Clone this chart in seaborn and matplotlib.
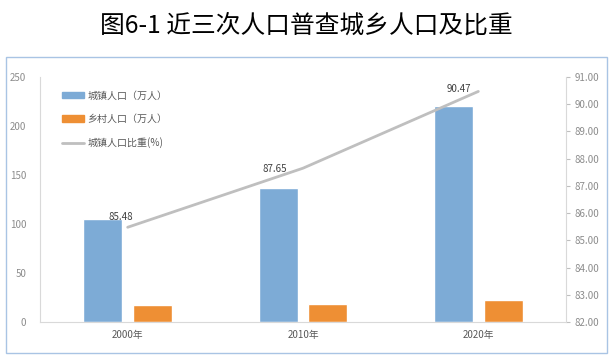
import numpy as np
import pandas as pd
import matplotlib
matplotlib.use("Agg")
import matplotlib.pyplot as plt
from matplotlib.patches import Rectangle, Patch
from matplotlib.lines import Line2D
import seaborn as sns

# data
years = ["2000年", "2010年", "2020年"]
urban = [105.1, 136.7, 220.4]      # 城镇人口（万人）
rural = [17.3, 18.6, 22.4]         # 乡村人口（万人）
urban_share = [85.48, 87.65, 90.47]  # 城镇人口比重(%)
series_names = ["城镇人口（万人）", "乡村人口（万人）", "城镇人口比重(%)"]

blue = "#7DABD6"
orange = "#EE8F34"
grey = "#BFBFBF"

sns.set_style("white")
plt.rcParams["font.family"] = ["Noto Sans CJK SC", "DejaVu Sans"]

df = pd.DataFrame({
    "year": years * 2,
    "value": urban + rural,
    "kind": [series_names[0]] * 3 + [series_names[1]] * 3,
})

fig = plt.figure(figsize=(6.16, 3.63), dpi=100)
ax = fig.add_axes([40 / 616, 1 - 322 / 363, 526 / 616, 245 / 363])

sns.barplot(data=df, x="year", y="value", hue="kind", palette=[blue, orange],
            width=0.57, gap=0.22, ax=ax, legend=False, saturation=1)
ax.set_xlim(-0.5, 2.5)
ax.set_ylim(0, 250)
ax.set_yticks(np.arange(0, 251, 50))
ax.set_xlabel("")
ax.set_ylabel("")
ax.tick_params(axis="y", length=0, labelsize=7, labelcolor="#8C8C8C", pad=10)
ax.tick_params(axis="x", length=0, labelsize=7, labelcolor="#595959", pad=6)
for s in ["top", "right"]:
    ax.spines[s].set_visible(False)
ax.spines["left"].set_color("#D9D9D9")
ax.spines["bottom"].set_color("#D9D9D9")

ax2 = ax.twinx()
sns.lineplot(x=np.arange(len(years)), y=urban_share, color=grey, lw=2, ax=ax2)
ax2.set_ylim(82, 91)
ax2.set_yticks(np.arange(82, 91.1, 1))
ax2.yaxis.set_major_formatter(matplotlib.ticker.FormatStrFormatter("%.2f"))
ax2.tick_params(axis="y", length=3, color="#BFBFBF", labelsize=7,
                labelcolor="#8C8C8C", pad=3)
for s in ["top", "left", "bottom"]:
    ax2.spines[s].set_visible(False)
ax2.spines["right"].set_color("#D9D9D9")

offsets = [(-5, 4), (-20, -4), (-14, -2)]
for i, v in enumerate(urban_share):
    ax2.annotate(f"{v:.2f}", (i, v), xytext=offsets[i], textcoords="offset points",
                 ha="center", va="bottom", fontsize=7, color="#404040")

handles = [Patch(color=blue), Patch(color=orange), Line2D([], [], color=grey, lw=2)]
ax.legend(handles, series_names, loc="upper left", bbox_to_anchor=(0.042, 0.945),
          frameon=False, fontsize=7.2, labelcolor="#595959", handlelength=2.2,
          handleheight=0.6, handletextpad=0.3, labelspacing=1.35,
          borderaxespad=0, borderpad=0)

fig.text(306 / 616, 1 - 26 / 363, "图6-1 近三次人口普查城乡人口及比重",
         ha="center", va="center", fontsize=17.8, color="black")

fig.patches.append(Rectangle((6 / 616, 1 - 353 / 363), 601 / 616, 296 / 363,
                             transform=fig.transFigure, fill=False,
                             edgecolor="#A9C4E4", lw=1))

fig.savefig("out.png", dpi=100)
